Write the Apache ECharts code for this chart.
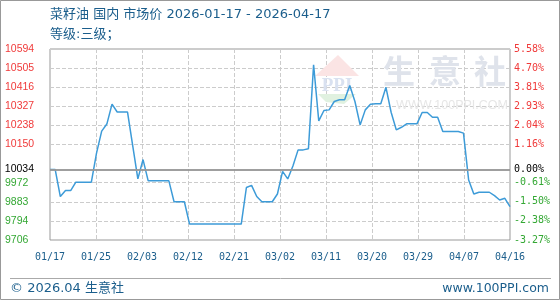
<!DOCTYPE html>
<html><head><meta charset="utf-8">
<script src="https://cdn.jsdelivr.net/npm/echarts@6/dist/echarts.min.js"></script>
<style>html,body{margin:0;padding:0;background:#fff}#c{width:560px;height:300px}</style>
</head><body><div id="c"></div>
<script>
const dates = [
'01/17','01/18','01/19','01/20','01/21','01/22','01/23','01/24','01/25','01/26','01/27','01/28','01/29','01/30','01/31',
'02/01','02/02','02/03','02/04','02/05','02/06','02/07','02/08','02/09','02/10','02/11','02/12','02/13','02/14','02/15',
'02/16','02/17','02/18','02/19','02/20','02/21','02/22','02/23','02/24','02/25','02/26','02/27','02/28',
'03/01','03/02','03/03','03/04','03/05','03/06','03/07','03/08','03/09','03/10','03/11','03/12','03/13','03/14','03/15',
'03/16','03/17','03/18','03/19','03/20','03/21','03/22','03/23','03/24','03/25','03/26','03/27','03/28','03/29','03/30','03/31',
'04/01','04/02','04/03','04/04','04/05','04/06','04/07','04/08','04/09','04/10','04/11','04/12','04/13','04/14','04/15','04/16'];
const prices = [
10034,10034,9908,9936,9936,9975,9975,9975,9975,10110,10212,10245,10338,10301,10301,
10301,10145,9990,10080,9981,9981,9981,9981,9981,9884,9884,9884,9780,9780,9780,
9780,9780,9780,9780,9780,9780,9780,9780,9950,9960,9908,9884,9884,
9884,9920,10025,9990,10050,10125,10125,10130,10521,10260,10308,10311,10350,10358,10358,
10424,10350,10241,10311,10337,10339,10339,10416,10300,10218,10230,10246,10246,10246,10299,10299,
10277,10277,10210,10210,10210,10210,10203,9985,9920,9928,9928,9928,9912,9892,9900,9861];
const baseValue = 10034;
const baseLabelLeft = '10034';
const baseLabelRight = '0.00%';
const yMin = 9706, yMax = 10594, yStep = 88.8;
const xStep = 8.9;
const leftTickLabels = ['9706','9794','9883','9972','','10150','10238','10327','10416','10505','10594'];
const rightTickLabels = ['-3.27%','-2.38%','-1.50%','-0.61%','','1.16%','2.04%','2.93%','3.81%','4.70%','5.58%'];
const titleLine1 = '菜籽油 国内 市场价 2026-01-17 - 2026-04-17';
const titleLine2 = '等级:三级；';
const footerLeft = '© 2026.04 生意社';
const footerRight = 'www.100PPI.com';

const RED = '#f03a3a', GREEN = '#34a834', BLUE = '#1b5e8c', LINE = '#3d9bd8';
function tickIndex(v){ return Math.round((Number(v) - yMin) / yStep); }
function upDownColor(v){ return Number(v) > baseValue ? RED : GREEN; }

const chart = echarts.init(document.getElementById('c'), null, {renderer:'canvas'});
const gridColors = leftTickLabels.map(t => t === '' ? 'rgba(0,0,0,0)' : '#cccccc');

chart.setOption({
  animation: false,
  backgroundColor: '#fff',
  grid: {left: 50, right: 50, top: 49, bottom: 60, show: true, borderColor: '#999', borderWidth: 1, outerBoundsMode: 'none'},
  xAxis: {
    type: 'value', min: 0, max: dates.length - 1, interval: xStep,
    axisLine: {show: false}, axisTick: {show: false},
    splitLine: {show: true, lineStyle: {type: 'dashed', color: '#cccccc', width: 1}},
    axisLabel: {
      margin: 12, color: BLUE, fontFamily: 'DejaVu Sans Mono', fontSize: 10,
      formatter: v => dates[Math.floor(v + 1e-6)] || ''
    }
  },
  yAxis: [{
    type: 'value', position: 'left', min: yMin, max: yMax, interval: yStep,
    axisLine: {show: false}, axisTick: {show: false},
    splitLine: {show: true, lineStyle: {type: 'dashed', color: gridColors, width: 1}},
    axisLabel: {
      align: 'left', margin: 45, fontFamily: 'Liberation Sans', fontSize: 10.5,
      formatter: v => leftTickLabels[tickIndex(v)] || '',
      color: v => upDownColor(v)
    }
  }, {
    type: 'value', position: 'right', min: yMin, max: yMax, interval: yStep,
    axisLine: {show: false}, axisTick: {show: false}, splitLine: {show: false},
    axisLabel: {
      align: 'left', margin: 4, fontFamily: 'DejaVu Sans Mono', fontSize: 10,
      formatter: v => rightTickLabels[tickIndex(v)] || '',
      color: v => upDownColor(v)
    }
  }],
  graphic: [
    {type: 'rect', silent: true, z: 10, shape: {x: 0.5, y: 0.5, width: 559, height: 299}, style: {fill: 'none', stroke: '#999', lineWidth: 1}},
    {type: 'text', silent: true, style: {x: 50, y: 15, text: titleLine1, font: '13px "DejaVu Sans", "Noto Sans CJK SC"', fill: BLUE, verticalAlign: 'middle', textVerticalAlign: 'middle'}},
    {type: 'text', silent: true, style: {x: 50, y: 35, text: titleLine2, font: '13px "DejaVu Sans", "Noto Sans CJK SC"', fill: BLUE, verticalAlign: 'middle', textVerticalAlign: 'middle'}},
    {type: 'line', silent: true, shape: {x1: 10, y1: 278.5, x2: 551, y2: 278.5}, style: {stroke: '#aaa', lineWidth: 1}},
    {type: 'text', silent: true, style: {x: 10, y: 289, text: footerLeft, font: '13px "DejaVu Sans", "Noto Sans CJK SC"', fill: BLUE, verticalAlign: 'middle', textVerticalAlign: 'middle'}},
    {type: 'text', silent: true, style: {x: 549, y: 289, text: footerRight, font: '12.5px "DejaVu Sans"', fill: BLUE, align: 'right', textAlign: 'right', verticalAlign: 'middle', textVerticalAlign: 'middle'}},
    // watermark
    {type: 'polygon', silent: true, z: 1, shape: {points: [[315, 76], [338, 55], [359, 76]]}, style: {fill: '#fbe4e4'}},
    {type: 'text', silent: true, z: 1, style: {x: 337, y: 86, text: 'PPI', font: 'bold 19px "Liberation Serif"', fill: '#d9e1f0', align: 'center', textAlign: 'center', verticalAlign: 'middle', textVerticalAlign: 'middle'}},
    {type: 'polygon', silent: true, z: 1, shape: {points: [[318, 94], [356, 94], [344, 104], [326, 102]]}, style: {fill: '#e0f1e0'}},
    {type: 'text', silent: true, z: 1, style: {x: 399, y: 71, text: '生', font: 'bold 32px "Noto Sans CJK SC"', fill: '#dfe3eb', align: 'center', textAlign: 'center', verticalAlign: 'middle', textVerticalAlign: 'middle'}},
    {type: 'text', silent: true, z: 1, style: {x: 445, y: 71, text: '意', font: 'bold 32px "Noto Sans CJK SC"', fill: '#dfe3eb', align: 'center', textAlign: 'center', verticalAlign: 'middle', textVerticalAlign: 'middle'}},
    {type: 'text', silent: true, z: 1, style: {x: 490, y: 71, text: '社', font: 'bold 32px "Noto Sans CJK SC"', fill: '#dfe3eb', align: 'center', textAlign: 'center', verticalAlign: 'middle', textVerticalAlign: 'middle'}},
    {type: 'text', silent: true, z: 1, style: {x: 452, y: 106, text: 'WWW.100PPI.COM', font: '12.5px "Liberation Sans"', fill: '#e6e6e6', align: 'center', textAlign: 'center', verticalAlign: 'middle', textVerticalAlign: 'middle'}}
  ],
  series: [{
    type: 'line', z: 3,
    data: dates.map((d, i) => [i, prices[i]]),
    showSymbol: false, symbol: 'none',
    lineStyle: {color: LINE, width: 1.5},
    markLine: {
      silent: true, symbol: ['none', 'none'], animation: false,
      lineStyle: {color: '#999', width: 1.5, type: 'solid'},
      data: [
        {yAxis: baseValue, label: {position: 'start', formatter: baseLabelLeft, distance: 16, color: '#000', fontFamily: 'Liberation Sans', fontSize: 10.5}},
        {yAxis: baseValue, label: {position: 'end', formatter: baseLabelRight, distance: 4, color: '#000', fontFamily: 'DejaVu Sans Mono', fontSize: 10}}
      ]
    }
  }]
});
</script>
</body></html>
